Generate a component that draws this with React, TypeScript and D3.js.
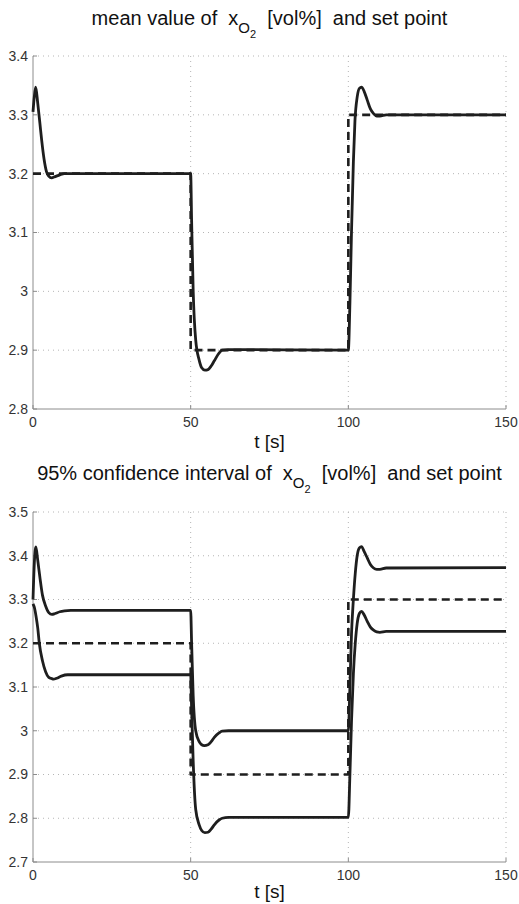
import React from 'react';
import * as d3 from 'd3';

// time axis ticks
const X_TICKS = [0, 50, 100, 150];
const Y_TICKS_TOP = [2.8, 2.9, 3.0, 3.1, 3.2, 3.3, 3.4];
const Y_TICKS_BOTTOM = [2.7, 2.8, 2.9, 3.0, 3.1, 3.2, 3.3, 3.4, 3.5];

// set point (step changes at 50 s and 100 s)
const SP_T = [0, 50, 50, 100, 100, 150];
const SP_V = [3.2, 3.2, 2.9, 2.9, 3.3, 3.3];

// mean value of x_O2
const MEAN_T = [0, 0.4, 0.85, 1.5, 2.2, 2.75, 3.5, 4.3, 5, 5.9, 7, 8.5, 10, 12, 50, 50.3, 50.8, 51.6, 52.7, 53.5, 54.5, 55.5, 56.5, 57.5, 59, 60, 62, 100, 100.5, 101, 101.6, 102.1, 102.8, 103.5, 104.2, 105, 106, 107, 108, 109, 110, 112, 150];
const MEAN_V = [3.305, 3.33, 3.347, 3.32, 3.285, 3.257, 3.225, 3.203, 3.196, 3.193, 3.195, 3.198, 3.2, 3.2, 3.2, 3.12, 3.0, 2.917, 2.883, 2.87, 2.866, 2.867, 2.873, 2.882, 2.895, 2.9, 2.901, 2.9, 2.98, 3.1, 3.22, 3.29, 3.33, 3.345, 3.347, 3.34, 3.325, 3.31, 3.302, 3.298, 3.298, 3.3, 3.3];

// 95% confidence interval, upper bound
const UP_T = [0, 0.4, 0.9, 1.5, 2.2, 3, 4, 5, 6, 7, 8.5, 10, 12, 50, 50.3, 50.8, 51.6, 52.7, 53.5, 54.3, 55.5, 56.5, 57.5, 59, 60, 62, 100, 100.5, 101, 101.6, 102.2, 102.8, 103.5, 104.2, 105, 106, 107, 108, 109, 110, 112, 150];
const UP_V = [3.3, 3.38, 3.42, 3.39, 3.35, 3.31, 3.285, 3.27, 3.266, 3.268, 3.272, 3.274, 3.275, 3.275, 3.2, 3.08, 3.0, 2.975, 2.968, 2.966, 2.968, 2.975, 2.985, 2.995, 2.999, 3.0, 3.0, 3.1, 3.22, 3.3, 3.36, 3.4, 3.418, 3.421, 3.41, 3.395, 3.38, 3.372, 3.369, 3.369, 3.372, 3.373];

// 95% confidence interval, lower bound
const LO_T = [0, 0.5, 1, 1.5, 2, 3, 4, 5, 6, 6.5, 7.5, 9, 11, 50, 50.3, 50.8, 51.6, 52.7, 53.5, 54.5, 55.5, 56.5, 57.5, 59, 60, 62, 100, 100.5, 101, 101.6, 102.2, 102.8, 103.5, 104.2, 105, 106, 107, 108, 109, 110, 112, 150];
const LO_V = [3.29, 3.28, 3.26, 3.235, 3.2, 3.16, 3.135, 3.122, 3.119, 3.118, 3.12, 3.125, 3.128, 3.128, 3.05, 2.93, 2.82, 2.785, 2.772, 2.767, 2.768, 2.775, 2.785, 2.796, 2.8, 2.802, 2.802, 2.9, 3.02, 3.13, 3.2, 3.245, 3.268, 3.273, 3.265, 3.25, 3.237, 3.23, 3.226, 3.225, 3.227, 3.227];

const FONT = '"Liberation Sans", Arial, Helvetica, sans-serif';
const fmt = (v: number) => String(+v.toFixed(1));

type Series = { t: number[]; v: number[]; dashed?: boolean };

function Panel({ top, bottom, yTicks, series, prefix, titleY, xlabelOffset }: {
  top: number; bottom: number; yTicks: number[]; series: Series[]; prefix: string; titleY: number; xlabelOffset: number;
}) {
  const x = d3.scaleLinear().domain([0, 150]).range([33, 506]);
  const y = d3.scaleLinear().domain([yTicks[0], yTicks[yTicks.length - 1]]).range([bottom, top]);

  const line = (s: Series) => {
    const pts = s.t.map((t, i) => [t, s.v[i]] as [number, number]);
    const gen = d3.line<[number, number]>()
      .x(d => x(d[0]))
      .y(d => y(d[1]))
      .curve(s.dashed ? d3.curveLinear : d3.curveMonotoneX);
    return gen(pts) || '';
  };

  const cx = (x(0) + x(150)) / 2;

  return (
    <g fontFamily={FONT}>
      {/* title */}
      <text x={cx} y={titleY} textAnchor="middle" fontSize={20} fill="#111" style={{ whiteSpace: 'pre' }}>
        {prefix}
        <tspan dy={8} fontSize={15}>O</tspan>
        <tspan dy={5} fontSize={11}>2</tspan>
        <tspan dy={-13} fontSize={20}>{'  [vol%]  and set point'}</tspan>
      </text>

      {/* grid */}
      {yTicks.slice(1).map(v => (
        <line key={'gy' + v} x1={x(0)} x2={x(150)} y1={y(v)} y2={y(v)}
          stroke="#b5b5b5" strokeWidth={1} strokeDasharray="1,4" />
      ))}
      {X_TICKS.slice(1).map(t => (
        <line key={'gx' + t} x1={x(t)} x2={x(t)} y1={top} y2={bottom}
          stroke="#b5b5b5" strokeWidth={1} strokeDasharray="1,4" />
      ))}

      {/* axes */}
      <line x1={x(0)} x2={x(150)} y1={bottom} y2={bottom} stroke="#8c8c8c" strokeWidth={1} />
      <line x1={x(0)} x2={x(0)} y1={top} y2={bottom} stroke="#8c8c8c" strokeWidth={1} />
      {yTicks.map(v => (
        <g key={'ty' + v}>
          <line x1={x(0)} x2={x(0) + 4} y1={y(v)} y2={y(v)} stroke="#8c8c8c" />
          <text x={x(0) - 5} y={y(v)} dy="0.35em" textAnchor="end" fontSize={14} fill="#333">{fmt(v)}</text>
        </g>
      ))}
      {X_TICKS.map(t => (
        <g key={'tx' + t}>
          <line x1={x(t)} x2={x(t)} y1={bottom} y2={bottom - 4} stroke="#8c8c8c" />
          <text x={x(t)} y={bottom + 13} dy="0.35em" textAnchor="middle" fontSize={14} fill="#333">{t}</text>
        </g>
      ))}
      <text x={cx} y={bottom + xlabelOffset} dy="0.35em" textAnchor="middle" fontSize={19} fill="#111">t [s]</text>

      {/* data */}
      {series.map((s, i) => (
        <path key={i} d={line(s)} fill="none" stroke="#1e1e1e"
          strokeWidth={s.dashed ? 2.6 : 2.8}
          strokeDasharray={s.dashed ? '8,5' : undefined}
          strokeLinejoin="round" />
      ))}
    </g>
  );
}

export default function App() {
  const sp: Series = { t: SP_T, v: SP_V, dashed: true };
  return (
    <svg width={519} height={904} style={{ position: 'absolute', left: 0, top: 0, background: '#fff' }}>
      <rect width={519} height={904} fill="#fff" />
      <Panel top={56} bottom={409} yTicks={Y_TICKS_TOP} titleY={25} xlabelOffset={32}
        prefix={'mean value of  x'}
        series={[sp, { t: MEAN_T, v: MEAN_V }]} />
      <Panel top={512} bottom={862} yTicks={Y_TICKS_BOTTOM} titleY={480} xlabelOffset={29}
        prefix={'95% confidence interval of  x'}
        series={[sp, { t: UP_T, v: UP_V }, { t: LO_T, v: LO_V }]} />
    </svg>
  );
}
